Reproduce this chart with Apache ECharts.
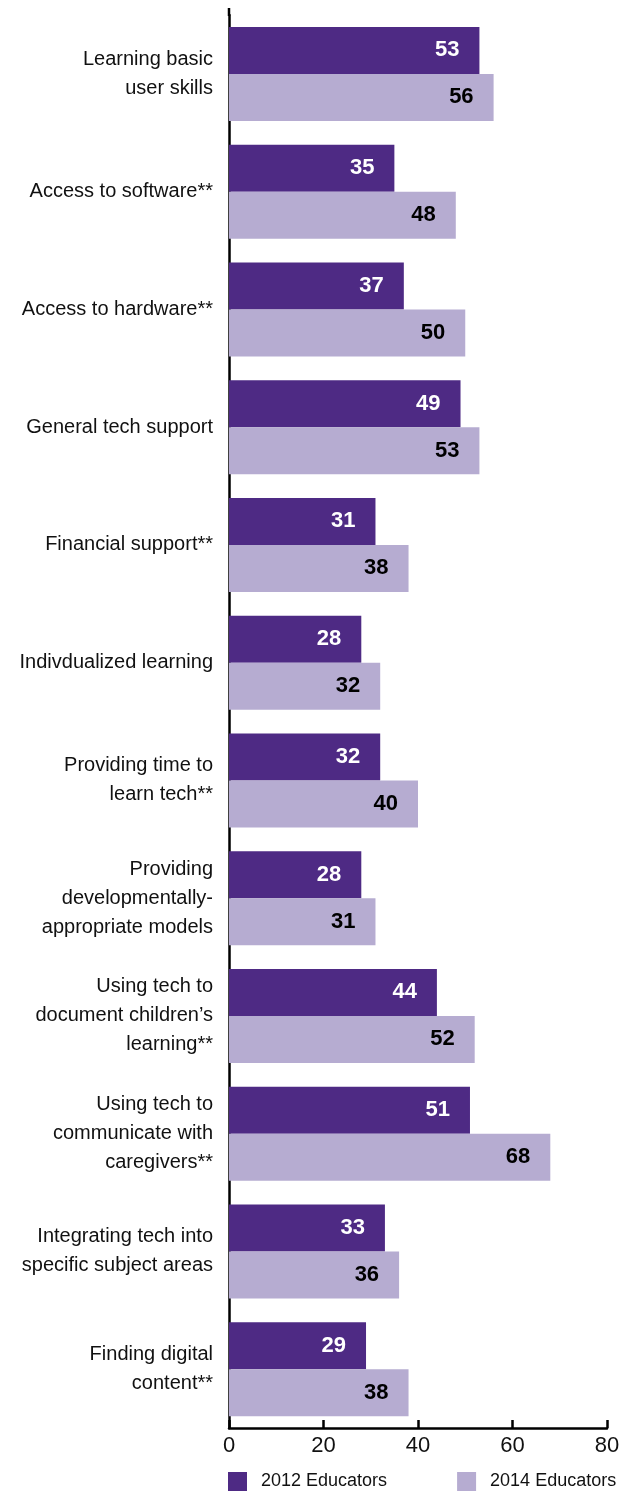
<!DOCTYPE html>
<html>
<head>
<meta charset="utf-8">
<script src="https://cdn.jsdelivr.net/npm/echarts@6/dist/echarts.min.js"></script>
<style>
  html, body { margin: 0; padding: 0; background: #ffffff; }
  #chart { width: 633px; height: 1492px; }
</style>
</head>
<body>
<div id="chart"></div>
<script>
// Supports educators want, share of respondents (%)
const categories = [
  'Learning basic\nuser skills',
  'Access to software**',
  'Access to hardware**',
  'General tech support',
  'Financial support**',
  'Indivdualized learning',
  'Providing time to\nlearn tech**',
  'Providing\ndevelopmentally-\nappropriate models',
  'Using tech to\ndocument children\u2019s\nlearning**',
  'Using tech to\ncommunicate with\ncaregivers**',
  'Integrating tech into\nspecific subject areas',
  'Finding digital\ncontent**'
];
const educators2012 = [53, 35, 37, 49, 31, 28, 32, 28, 44, 51, 33, 29];
const educators2014 = [56, 48, 50, 53, 38, 32, 40, 31, 52, 68, 36, 38];
const seriesNames = ['2012 Educators', '2014 Educators'];
const xTicks = { min: 0, max: 80, interval: 20 };

const FONT = '"Liberation Sans", Arial, sans-serif';
const DARK = '#4E2A84';
const LIGHT = '#B6ACD1';

const chart = echarts.init(document.getElementById('chart'), null, { renderer: 'canvas' });

function valueLabel(color) {
  return {
    show: true,
    position: 'insideRight',
    distance: 20,
    color: color,
    fontFamily: FONT,
    fontWeight: 'bold',
    fontSize: 22
  };
}

chart.setOption({
  animation: false,
  backgroundColor: '#ffffff',
  grid: { left: 229, right: 26, top: 15, bottom: 64, containLabel: false },
  legend: {
    left: 223,
    top: 1467,
    itemWidth: 19,
    itemHeight: 19,
    itemGap: 70,
    icon: 'rect',
    data: seriesNames,
    textStyle: {
      fontFamily: FONT,
      fontSize: 18,
      color: '#111111',
      padding: [0, 0, 0, 9]
    }
  },
  xAxis: {
    type: 'value',
    min: xTicks.min,
    max: xTicks.max,
    interval: xTicks.interval,
    axisLine: { show: true, lineStyle: { color: '#000000', width: 2.5 } },
    axisTick: { show: true, inside: true, length: 8, lineStyle: { color: '#000000', width: 2.5 } },
    splitLine: { show: false },
    axisLabel: {
      margin: 7,
      fontFamily: FONT,
      fontSize: 22,
      color: '#111111'
    }
  },
  yAxis: {
    type: 'category',
    inverse: true,
    data: categories,
    axisLine: { show: true, lineStyle: { color: '#000000', width: 2.5 } },
    axisTick: { show: false },
    axisLabel: {
      margin: 16,
      fontFamily: FONT,
      fontSize: 20,
      lineHeight: 29,
      color: '#111111',
      align: 'right'
    }
  },
  series: [
    {
      name: seriesNames[0],
      type: 'bar',
      data: educators2012,
      barWidth: 47,
      barGap: '0%',
      itemStyle: { color: DARK },
      label: valueLabel('#ffffff')
    },
    {
      name: seriesNames[1],
      type: 'bar',
      data: educators2014,
      barWidth: 47,
      barGap: '0%',
      itemStyle: { color: LIGHT },
      label: valueLabel('#000000')
    }
  ]
});

// Extend the vertical axis line slightly above the plot area
const x0 = chart.convertToPixel({ xAxisIndex: 0 }, 0);
chart.setOption({
  graphic: [{
    type: 'line',
    shape: { x1: x0, y1: 8, x2: x0, y2: 16 },
    style: { stroke: '#000000', lineWidth: 2.5 },
    silent: true
  }]
});
</script>
</body>
</html>
